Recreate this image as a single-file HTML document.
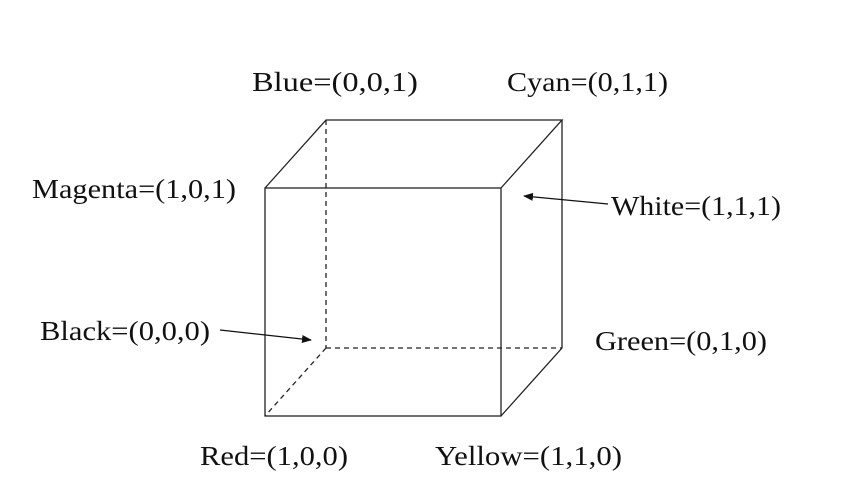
<!DOCTYPE html>
<html><head><meta charset="utf-8"><style>
html,body{margin:0;padding:0;background:#fff;width:863px;height:499px;overflow:hidden}
text{font-family:"Liberation Serif",serif;font-size:27px;fill:#111}
</style></head><body>
<svg width="863" height="499" viewBox="0 0 863 499">
<defs><marker id="ah" markerWidth="10" markerHeight="8" refX="9" refY="4" orient="auto" markerUnits="userSpaceOnUse"><path d="M0,0 L10,4 L0,8 z" fill="#111"/></marker></defs>
<g stroke="#222" stroke-width="1.3" fill="none">
<rect x="265" y="188" width="236" height="228"/>
<polyline points="265,188 326,120 562,120 501,188"/>
<polyline points="562,120 562,348 501,416"/>
<g stroke-dasharray="5,4">
<line x1="326" y1="120" x2="326" y2="348"/><line x1="326" y1="348" x2="562" y2="348"/><line x1="326" y1="348" x2="265" y2="416"/>
</g>
</g>
<line x1="220" y1="330" x2="311" y2="340" stroke="#111" stroke-width="1.3" marker-end="url(#ah)"/>
<line x1="608" y1="204" x2="524" y2="196" stroke="#111" stroke-width="1.3" marker-end="url(#ah)"/>
<text x="252" y="91" textLength="166" lengthAdjust="spacingAndGlyphs">Blue=(0,0,1)</text>
<text x="507" y="91" textLength="161" lengthAdjust="spacingAndGlyphs">Cyan=(0,1,1)</text>
<text x="32" y="198" textLength="204" lengthAdjust="spacingAndGlyphs">Magenta=(1,0,1)</text>
<text x="611" y="215" textLength="170" lengthAdjust="spacingAndGlyphs">White=(1,1,1)</text>
<text x="40" y="340" textLength="170" lengthAdjust="spacingAndGlyphs">Black=(0,0,0)</text>
<text x="595" y="350" textLength="172" lengthAdjust="spacingAndGlyphs">Green=(0,1,0)</text>
<text x="200" y="465" textLength="148" lengthAdjust="spacingAndGlyphs">Red=(1,0,0)</text>
<text x="435" y="465" textLength="187" lengthAdjust="spacingAndGlyphs">Yellow=(1,1,0)</text>
</svg>
</body></html>
